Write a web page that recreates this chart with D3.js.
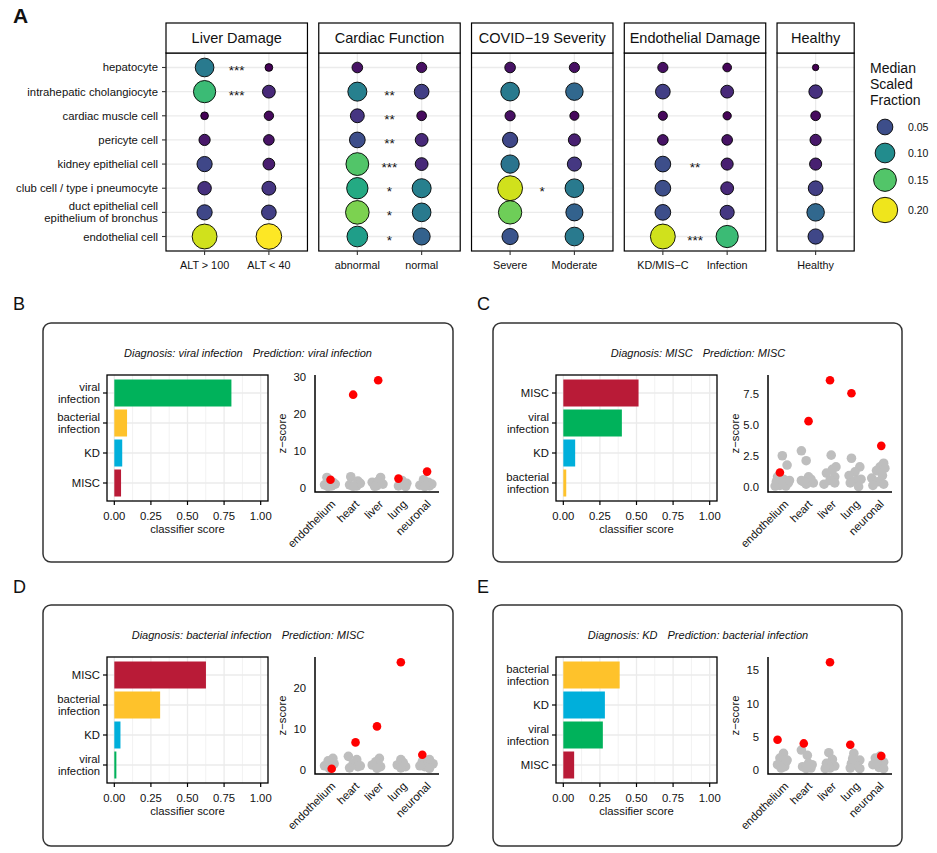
<!DOCTYPE html>
<html><head><meta charset="utf-8">
<script src="https://cdn.jsdelivr.net/npm/d3@7"></script>
<style>
body{margin:0;background:#fff}
svg{display:block}
text{font-family:"Liberation Sans",Arial,Helvetica,sans-serif;fill:#111}
</style>
</head><body>
<svg id="c" width="937" height="853"></svg>
<script>
// ---------------- DATA: panel A ----------------
const cellTypes = ["hepatocyte","intrahepatic cholangiocyte","cardiac muscle cell","pericyte cell",
  "kidney epithelial cell","club cell / type i pneumocyte","duct epithelial cell\nepithelium of bronchus","endothelial cell"];
const facets = ["Liver Damage","Cardiac Function","COVID\u221219 Severity","Endothelial Damage","Healthy"];
const facetLevels = [["ALT > 100","ALT < 40"],["abnormal","normal"],["Severe","Moderate"],["KD/MIS\u2212C","Infection"],["Healthy"]];
const fracLiver   = [[0.085,0.14,0.003,0.015,0.045,0.03,0.045,0.19],[0.003,0.025,0.007,0.012,0.018,0.033,0.04,0.205]];
const fracCardiac = [[0.012,0.09,0.033,0.05,0.15,0.125,0.165,0.115],[0.01,0.04,0.008,0.025,0.025,0.09,0.085,0.065]];
const fracCovid   = [[0.012,0.085,0.01,0.045,0.08,0.19,0.16,0.055],[0.01,0.07,0.006,0.02,0.035,0.085,0.065,0.085]];
const fracEndo    = [[0.01,0.04,0.006,0.012,0.05,0.05,0.05,0.19],[0.005,0.025,0.004,0.012,0.02,0.025,0.035,0.14]];
const fracHealthy = [[0.002,0.03,0.008,0.015,0.02,0.04,0.07,0.045]];
const starsLiver   = ["***","***","","","","","",""];
const starsCardiac = ["","**","**","**","***","*","*","*"];
const starsCovid   = ["","","","","","*","",""];
const starsEndo    = ["","","","","**","","","***"];
const starsHealthy = ["","","","","","","",""];
const legendValues = [0.05,0.10,0.15,0.20];
const legendLabels = ["0.05","0.10","0.15","0.20"];

// ---------------- DATA: panels B-E ----------------
const caseLetters = ["B","C","D","E"];
const caseDiagnosis = ["viral infection","MISC","bacterial infection","KD"];
const casePrediction = ["viral infection","MISC","MISC","bacterial infection"];
const caseClasses = [
  ["viral infection","bacterial infection","KD","MISC"],
  ["MISC","viral infection","KD","bacterial infection"],
  ["MISC","bacterial infection","KD","viral infection"],
  ["bacterial infection","KD","viral infection","MISC"]];
const caseScores = [[0.80,0.087,0.054,0.046],[0.514,0.40,0.081,0.02],[0.626,0.313,0.042,0.014],[0.385,0.284,0.27,0.074]];
const scoreTicks = [0,0.25,0.5,0.75,1];
const tissues = ["endothelium","heart","liver","lung","neuronal"];
const caseRedZ = [[2.2,25.3,29.2,2.5,4.4],[1.15,5.3,8.6,7.55,3.3],[0.3,6.7,10.6,26.2,3.7],[4.55,4.0,16.2,3.8,2.1]];
const caseRedJitter = [[0.05,0,0.05,-0.1,0.1],[-0.1,0.1,0,-0.1,0.15],[0.1,0.1,0,0,-0.1],[-0.2,-0.1,0,-0.15,0.15]];
const zTicks = [[0,10,20,30],[0,2.5,5,7.5],[0,10,20],[0,5,10,15]];
const zTickLabels = [["0","10","20","30"],["0.0","2.5","5.0","7.5"],["0","10","20"],["0","5","10","15"]];
// gray points: per tissue, [jitter, z]
const grayB = [
  [[-0.1,2.8],[0.15,1.5],[-0.2,0.8],[0.1,0.5],[0.25,1.0],[-0.05,0.3]],
  [[-0.1,3.0],[0.2,1.8],[-0.15,0.8],[0.15,0.5],[0.3,1.2],[0,0.4]],
  [[0.15,2.8],[-0.2,1.5],[0.25,1.0],[0,0.6],[0.05,1.8],[-0.1,0.4]],
  [[0.05,2.0],[0.25,1.2],[-0.1,0.5],[0.15,0.8],[0.2,0.3]],
  [[-0.05,2.2],[0.15,1.5],[-0.2,0.7],[0.2,0.5],[0.3,1.0],[0,0.3]]];
const grayC = [
  [[0,2.5],[0.2,1.75],[-0.2,0.8],[0.05,0.6],[-0.25,0.4],[0.25,0.3],[-0.1,0.1],[0.15,0.05],[0,0.3],[-0.3,0.05],[0.3,0.5]],
  [[-0.2,2.9],[0,2.1],[0.1,0.8],[-0.2,0.5],[0.3,0.3],[0.2,0.6],[0,0.2],[-0.1,0.4]],
  [[0.05,2.55],[0.1,1.4],[-0.15,1.1],[0.2,0.8],[0,0.5],[-0.25,0.2],[0.2,0.3],[0.25,1.6]],
  [[-0.1,2.3],[0.25,1.6],[0.05,1.2],[-0.2,0.9],[0.1,0.5],[-0.15,0.3],[0.2,0.0],[0.3,0.6]],
  [[0.25,1.9],[0.1,1.6],[-0.05,1.3],[0.2,0.9],[-0.25,0.7],[0,0.4],[0.25,0.2],[-0.2,0.1],[0.3,1.5]]];
const grayD = [
  [[0.15,2.8],[-0.05,2.2],[0.2,1.5],[-0.2,1.0],[0.1,0.8],[0,0.4]],
  [[-0.2,3.3],[0.15,2.5],[0,1.5],[0.2,0.8],[-0.15,0.5],[0.3,1.0]],
  [[0.1,2.8],[-0.05,2.0],[-0.2,1.2],[0.15,0.8],[0,0.4]],
  [[0,2.5],[0.1,1.8],[-0.15,1.2],[0.2,0.8],[0,0.5]],
  [[0.2,2.5],[-0.1,2.0],[0.35,1.5],[0,0.8],[0.2,0.4],[-0.2,1.0]]];
const grayE = [
  [[0.05,2.5],[-0.1,1.8],[0.15,1.2],[-0.2,0.8],[0.1,0.5],[-0.05,0.3],[0.2,1.5]],
  [[-0.2,3.0],[0.05,2.2],[0.1,1.0],[-0.15,0.5],[0.2,0.3],[0.25,0.8],[0,0.2]],
  [[-0.05,2.6],[0.1,1.6],[-0.15,1.0],[0.2,0.6],[0,0.3],[-0.2,0.2]],
  [[0,2.5],[0.25,1.5],[-0.1,1.0],[0.15,0.6],[-0.15,0.3],[0.25,0.2],[-0.05,1.7]],
  [[0.1,2.1],[-0.1,1.8],[0.25,1.2],[-0.2,0.8],[0.05,0.4],[0.25,0.2],[-0.05,1.3]]];
const caseGray = [grayB, grayC, grayD, grayE];
const classColors = {"viral infection":"#00b25b","bacterial infection":"#fec22b","KD":"#00afdb","MISC":"#b91b37"};

// ---------------- DRAW ----------------
const svg = d3.select("#c");
const GRID = "#ebebeb";

// ===== Panel A =====
svg.append("text").attr("x",13).attr("y",23).attr("font-size",21).attr("font-weight","bold").text("A");
const fracByFacet = [fracLiver, fracCardiac, fracCovid, fracEndo, fracHealthy];
const starsByFacet = [starsLiver, starsCardiac, starsCovid, starsEndo, starsHealthy];
const allVals = fracByFacet.flat(2);
const vmin = d3.min(allVals), vmax = d3.max(allVals);
const tScale = d3.scaleLinear().domain([vmin, vmax]).clamp(true);
const rScale = v => 3.2 + 9.6*Math.sqrt(tScale(v));
const cScale = d3.scaleSequential(d3.interpolateViridis).domain([vmin, vmax]);
const yTop = 53, yBot = 251, stripTop = 23;
const yA = d3.scalePoint().domain(cellTypes).range([yTop, yBot]).padding(0.6);
const unit = 64.3, gap = 11.3;
let x0 = 166;
facets.forEach((f, i) => {
  const lv = facetLevels[i];
  const w = (lv.length - 1 + 1.2) * unit;
  const xs = d3.scalePoint().domain(lv).range([x0, x0 + w]).padding(0.6);
  const g = svg.append("g");
  g.selectAll(".hg").data(cellTypes).enter().append("line")
    .attr("x1", x0).attr("x2", x0 + w).attr("y1", d => yA(d)).attr("y2", d => yA(d))
    .attr("stroke", GRID).attr("stroke-width", 1.3);
  g.selectAll(".vg").data(lv).enter().append("line")
    .attr("x1", d => xs(d)).attr("x2", d => xs(d)).attr("y1", yTop).attr("y2", yBot)
    .attr("stroke", GRID).attr("stroke-width", 1.3);
  lv.forEach((lvl, j) => {
    g.selectAll(null).data(fracByFacet[i][j]).enter().append("circle")
      .attr("cx", xs(lvl)).attr("cy", (d, k) => yA(cellTypes[k]))
      .attr("r", d => rScale(d)).attr("fill", d => cScale(d))
      .attr("stroke", "#000").attr("stroke-width", 0.9);
  });
  if (lv.length === 2) {
    const mid = (xs(lv[0]) + xs(lv[1])) / 2;
    g.selectAll(null).data(starsByFacet[i]).enter().append("text")
      .attr("x", mid).attr("y", (d, k) => yA(cellTypes[k]) + 8)
      .attr("text-anchor", "middle").attr("font-size", 13.5).attr("fill", "#333").text(d => d);
  }
  g.append("rect").attr("x", x0).attr("y", yTop).attr("width", w).attr("height", yBot - yTop)
    .attr("fill", "none").attr("stroke", "#000").attr("stroke-width", 1.2);
  g.append("rect").attr("x", x0).attr("y", stripTop).attr("width", w).attr("height", yTop - stripTop)
    .attr("fill", "#fff").attr("stroke", "#000").attr("stroke-width", 1.2);
  g.append("text").attr("x", x0 + w / 2).attr("y", (stripTop + yTop) / 2 + 5)
    .attr("text-anchor", "middle").attr("font-size", 14.5).attr("fill", "#1a1a1a").text(f);
  lv.forEach(lvl => {
    g.append("line").attr("x1", xs(lvl)).attr("x2", xs(lvl)).attr("y1", yBot).attr("y2", yBot + 4)
      .attr("stroke", "#333").attr("stroke-width", 1.1);
    g.append("text").attr("x", xs(lvl)).attr("y", yBot + 18).attr("text-anchor", "middle")
      .attr("font-size", 10.8).attr("fill", "#222").text(lvl);
  });
  if (i === 0) {
    cellTypes.forEach(ct => {
      const y = yA(ct);
      g.append("line").attr("x1", x0 - 4).attr("x2", x0).attr("y1", y).attr("y2", y)
        .attr("stroke", "#333").attr("stroke-width", 1.1);
      const lines = ct.split("\n");
      lines.forEach((ln, li) => {
        g.append("text").attr("x", x0 - 8).attr("y", y + 4 + (li - (lines.length - 1) / 2) * 12)
          .attr("text-anchor", "end").attr("font-size", 11.3).attr("fill", "#222").text(ln);
      });
    });
  }
  x0 += w + gap;
});
// legend
const lg = svg.append("g");
["Median","Scaled","Fraction"].forEach((t, i) =>
  lg.append("text").attr("x", 870).attr("y", 73 + i * 16).attr("font-size", 14).attr("fill", "#111").text(t));
const legY = [127, 153, 180, 210];
legendValues.forEach((v, i) => {
  lg.append("circle").attr("cx", 885).attr("cy", legY[i]).attr("r", rScale(v))
    .attr("fill", cScale(v)).attr("stroke", "#000").attr("stroke-width", 0.9);
  lg.append("text").attr("x", 908).attr("y", legY[i] + 4).attr("font-size", 10.5).attr("fill", "#222").text(legendLabels[i]);
});

// ===== Panels B-E =====
const boxX = [43, 493, 43, 493], boxY = [323, 323, 605, 605];
const boxW = [410, 409, 410, 409], boxH = [239, 239, 241, 241];
const barOff = [64, 63, 64, 63], zOff = [272, 275, 272, 275];
const letterPos = [[13, 310], [477, 310], [13, 593], [477, 593]];

caseLetters.forEach((L, ci) => {
  const g = svg.append("g");
  g.append("text").attr("x", letterPos[ci][0]).attr("y", letterPos[ci][1]).attr("font-size", 18).text(L);
  const bx = boxX[ci], by = boxY[ci];
  g.append("rect").attr("x", bx).attr("y", by).attr("width", boxW[ci]).attr("height", boxH[ci])
    .attr("rx", 8).attr("ry", 8).attr("fill", "none").attr("stroke", "#333").attr("stroke-width", 1.5);
  const tcx = bx + 205;
  const tt = g.append("text").attr("x", tcx).attr("y", by + 34).attr("text-anchor", "middle")
    .attr("font-size", 11).attr("font-style", "italic").attr("fill", "#222");
  tt.append("tspan").text("Diagnosis: " + caseDiagnosis[ci]);
  tt.append("tspan").attr("dx", 10).text("Prediction: " + casePrediction[ci]);

  // ---- bar panel ----
  const pl = bx + barOff[ci], pt = by + 52, pw = 161, ph = 126;
  const xs = d3.scaleLinear().domain([-0.05, 1.05]).range([pl, pl + pw]);
  const ys = d3.scalePoint().domain(caseClasses[ci]).range([pt, pt + ph]).padding(0.6);
  const step = ys.step();
  const minor = d3.range(0.125, 1, 0.25);
  g.selectAll(null).data(minor).enter().append("line")
    .attr("x1", d => xs(d)).attr("x2", d => xs(d)).attr("y1", pt).attr("y2", pt + ph)
    .attr("stroke", "#f2f2f2").attr("stroke-width", 1);
  g.selectAll(null).data(scoreTicks).enter().append("line")
    .attr("x1", d => xs(d)).attr("x2", d => xs(d)).attr("y1", pt).attr("y2", pt + ph)
    .attr("stroke", GRID).attr("stroke-width", 1.3);
  g.selectAll(null).data(caseClasses[ci]).enter().append("line")
    .attr("x1", pl).attr("x2", pl + pw).attr("y1", d => ys(d)).attr("y2", d => ys(d))
    .attr("stroke", GRID).attr("stroke-width", 1.3);
  g.selectAll(null).data(caseScores[ci]).enter().append("rect")
    .attr("x", xs(0)).attr("y", (d, k) => ys(caseClasses[ci][k]) - step * 0.45)
    .attr("width", d => xs(d) - xs(0)).attr("height", step * 0.9)
    .attr("fill", (d, k) => classColors[caseClasses[ci][k]]);
  g.append("rect").attr("x", pl).attr("y", pt).attr("width", pw).attr("height", ph)
    .attr("fill", "none").attr("stroke", "#000").attr("stroke-width", 1.3);
  caseClasses[ci].forEach(c => {
    const y = ys(c);
    g.append("line").attr("x1", pl - 4).attr("x2", pl).attr("y1", y).attr("y2", y).attr("stroke", "#000").attr("stroke-width", 1.2);
    const words = c.split(" ");
    words.forEach((w, wi) => {
      g.append("text").attr("x", pl - 7).attr("y", y + 4 + (wi - (words.length - 1) / 2) * 12)
        .attr("text-anchor", "end").attr("font-size", 11.3).attr("fill", "#222").text(w);
    });
  });
  scoreTicks.forEach(t => {
    g.append("line").attr("x1", xs(t)).attr("x2", xs(t)).attr("y1", pt + ph).attr("y2", pt + ph + 4).attr("stroke", "#000").attr("stroke-width", 1.2);
    g.append("text").attr("x", xs(t)).attr("y", pt + ph + 19).attr("text-anchor", "middle")
      .attr("font-size", 11.3).attr("fill", "#222").text(d3.format(".2f")(t));
  });
  g.append("text").attr("x", pl + pw / 2).attr("y", pt + ph + 32).attr("text-anchor", "middle")
    .attr("font-size", 11.3).attr("fill", "#222").text("classifier score");

  // ---- z-score panel ----
  const zl = bx + zOff[ci], zt = by + 52, zw = 124, zh = 117;
  const gray = caseGray[ci];
  const allZ = gray.flat().map(d => d[1]).concat(caseRedZ[ci]);
  const zmin = d3.min(allZ), zmax = d3.max(allZ), zr = zmax - zmin;
  const zy = d3.scaleLinear().domain([zmin - 0.05 * zr, zmax + 0.05 * zr]).range([zt + zh, zt]);
  const zx = d3.scalePoint().domain(tissues).range([zl, zl + zw]).padding(0.6);
  const zstep = zx.step();
  gray.forEach((pts, ti) => {
    g.selectAll(null).data(pts).enter().append("circle")
      .attr("cx", d => zx(tissues[ti]) + d[0] * zstep).attr("cy", d => zy(d[1]))
      .attr("r", 4.8).attr("fill", "#bebebe");
  });
  g.selectAll(null).data(caseRedZ[ci]).enter().append("circle")
    .attr("cx", (d, k) => zx(tissues[k]) + caseRedJitter[ci][k] * zstep).attr("cy", d => zy(d))
    .attr("r", 4.3).attr("fill", "#ff0000");
  g.append("path").attr("d", `M${zl},${zt}V${zt + zh}H${zl + zw}`).attr("fill", "none")
    .attr("stroke", "#000").attr("stroke-width", 1.5);
  zTicks[ci].forEach((t, k) => {
    g.append("text").attr("x", zl - 9).attr("y", zy(t) + 4).attr("text-anchor", "end")
      .attr("font-size", 11.3).attr("fill", "#222").text(zTickLabels[ci][k]);
  });
  g.append("text").attr("transform", `translate(${zl - 29},${zt + zh / 2}) rotate(-90)`)
    .attr("text-anchor", "middle").attr("font-size", 11.3).attr("fill", "#222").text("z\u2212score");
  tissues.forEach(t => {
    g.append("text").attr("transform", `translate(${zx(t) + 4},${zt + zh + 10}) rotate(-45)`)
      .attr("text-anchor", "end").attr("dy", "0.35em").attr("font-size", 11.3).attr("fill", "#222").text(t);
  });
});
</script>
</body></html>
